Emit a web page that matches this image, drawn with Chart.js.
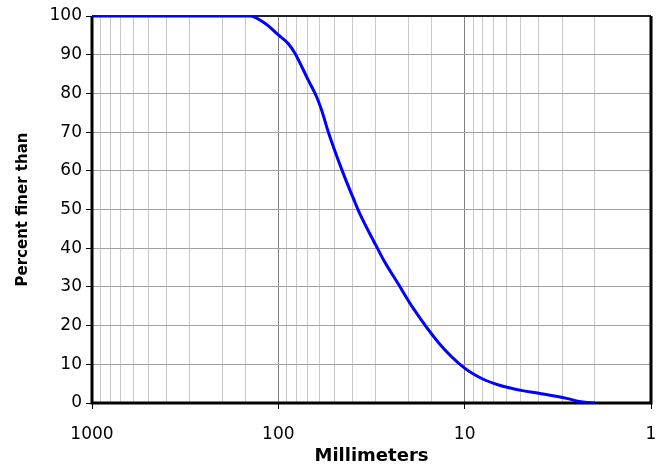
<!DOCTYPE html>
<html>
<head>
<meta charset="utf-8">
<script src="https://cdn.jsdelivr.net/npm/chart.js@4/dist/chart.umd.min.js"></script>
<style>
  body { margin: 0; background: #fff; }
  #wrap { width: 665px; height: 465px; }
</style>
</head>
<body>
<div id="wrap"><canvas id="gradation"></canvas></div>
<script>
// grain size (mm) and percent finer
const sizes = [1000, 200, 142, 118, 100, 88.6, 81.5, 69.2, 62.4, 58.6, 54, 44.9, 38.9, 36.6, 29.7, 26.9, 22.8, 18.9, 13.7, 10, 8, 6.5, 4.9, 4, 2.84, 2.38, 2];
const percentFiner = [100, 100, 100, 98.1, 95.1, 92.9, 90.4, 83.5, 79.2, 75.7, 70.1, 59.4, 52, 49, 40.4, 36.5, 30.9, 24.5, 15.4, 9, 6.2, 4.6, 3.2, 2.5, 1.2, 0.3, 0];
const xTickLabels = [1000, 100, 10, 1];

const isDecade = v => xTickLabels.includes(v);
const font = { family: 'DejaVu Sans', size: 17 };

// frame round the plot area, under the curve
const framePlugin = {
  id: 'frame',
  beforeDatasetsDraw(chart) {
    const { ctx, chartArea: a } = chart;
    ctx.save();
    ctx.strokeStyle = '#222';
    ctx.lineWidth = 2;
    ctx.beginPath();
    ctx.moveTo(a.left, a.top);
    ctx.lineTo(a.right, a.top);
    ctx.stroke();
    ctx.strokeStyle = '#000';
    ctx.lineWidth = 3;
    ctx.beginPath();
    ctx.moveTo(a.left, a.top);
    ctx.lineTo(a.left, a.bottom);
    ctx.lineTo(a.right, a.bottom);
    ctx.lineTo(a.right, a.top);
    ctx.stroke();
    ctx.restore();
  }
};

const ctx = document.getElementById('gradation').getContext('2d');
new Chart(ctx, {
  type: 'line',
  data: {
    datasets: [{
      data: sizes.map((s, i) => ({ x: s, y: percentFiner[i] })),
      borderColor: '#0000ff',
      borderWidth: 3,
      pointRadius: 0,
      cubicInterpolationMode: 'monotone',
      fill: false
    }]
  },
  options: {
    responsive: true,
    maintainAspectRatio: false,
    animation: false,
    layout: { padding: { top: 16, right: 14, left: 0, bottom: 0 } },
    plugins: { legend: { display: false }, tooltip: { enabled: false } },
    scales: {
      x: {
        type: 'logarithmic',
        reverse: true,
        min: 1,
        max: 1000,
        afterFit: s => { s.height = 62; s.paddingLeft = 0; s.paddingRight = 0; },
        border: { display: false },
        grid: {
          color: c => isDecade(c.tick.value) ? '#808080' : '#c8c8c8',
          tickColor: c => isDecade(c.tick.value) ? '#000' : 'rgba(0,0,0,0)',
          tickLength: 6,
          tickWidth: 1
        },
        ticks: {
          autoSkip: false,
          maxRotation: 0,
          color: '#000',
          font: font,
          padding: 15,
          callback: v => isDecade(v) ? String(v) : ''
        },
        title: {
          display: true,
          text: 'Millimeters',
          color: '#000',
          font: { family: 'DejaVu Sans', size: 18, weight: 'bold' },
          padding: { top: 0, bottom: -2 }
        }
      },
      y: {
        min: 0,
        max: 100,
        afterFit: s => { s.width = 92; },
        border: { display: false },
        grid: { color: '#a0a0a0', tickColor: '#000', tickLength: 6 },
        ticks: { stepSize: 10, color: '#000', font: font, padding: 4 },
        title: {
          display: true,
          text: 'Percent finer than',
          color: '#000',
          font: { family: 'DejaVu Sans', size: 15, weight: 'bold' },
          padding: { top: 14, bottom: 0 }
        }
      }
    }
  },
  plugins: [framePlugin]
});
</script>
</body>
</html>
